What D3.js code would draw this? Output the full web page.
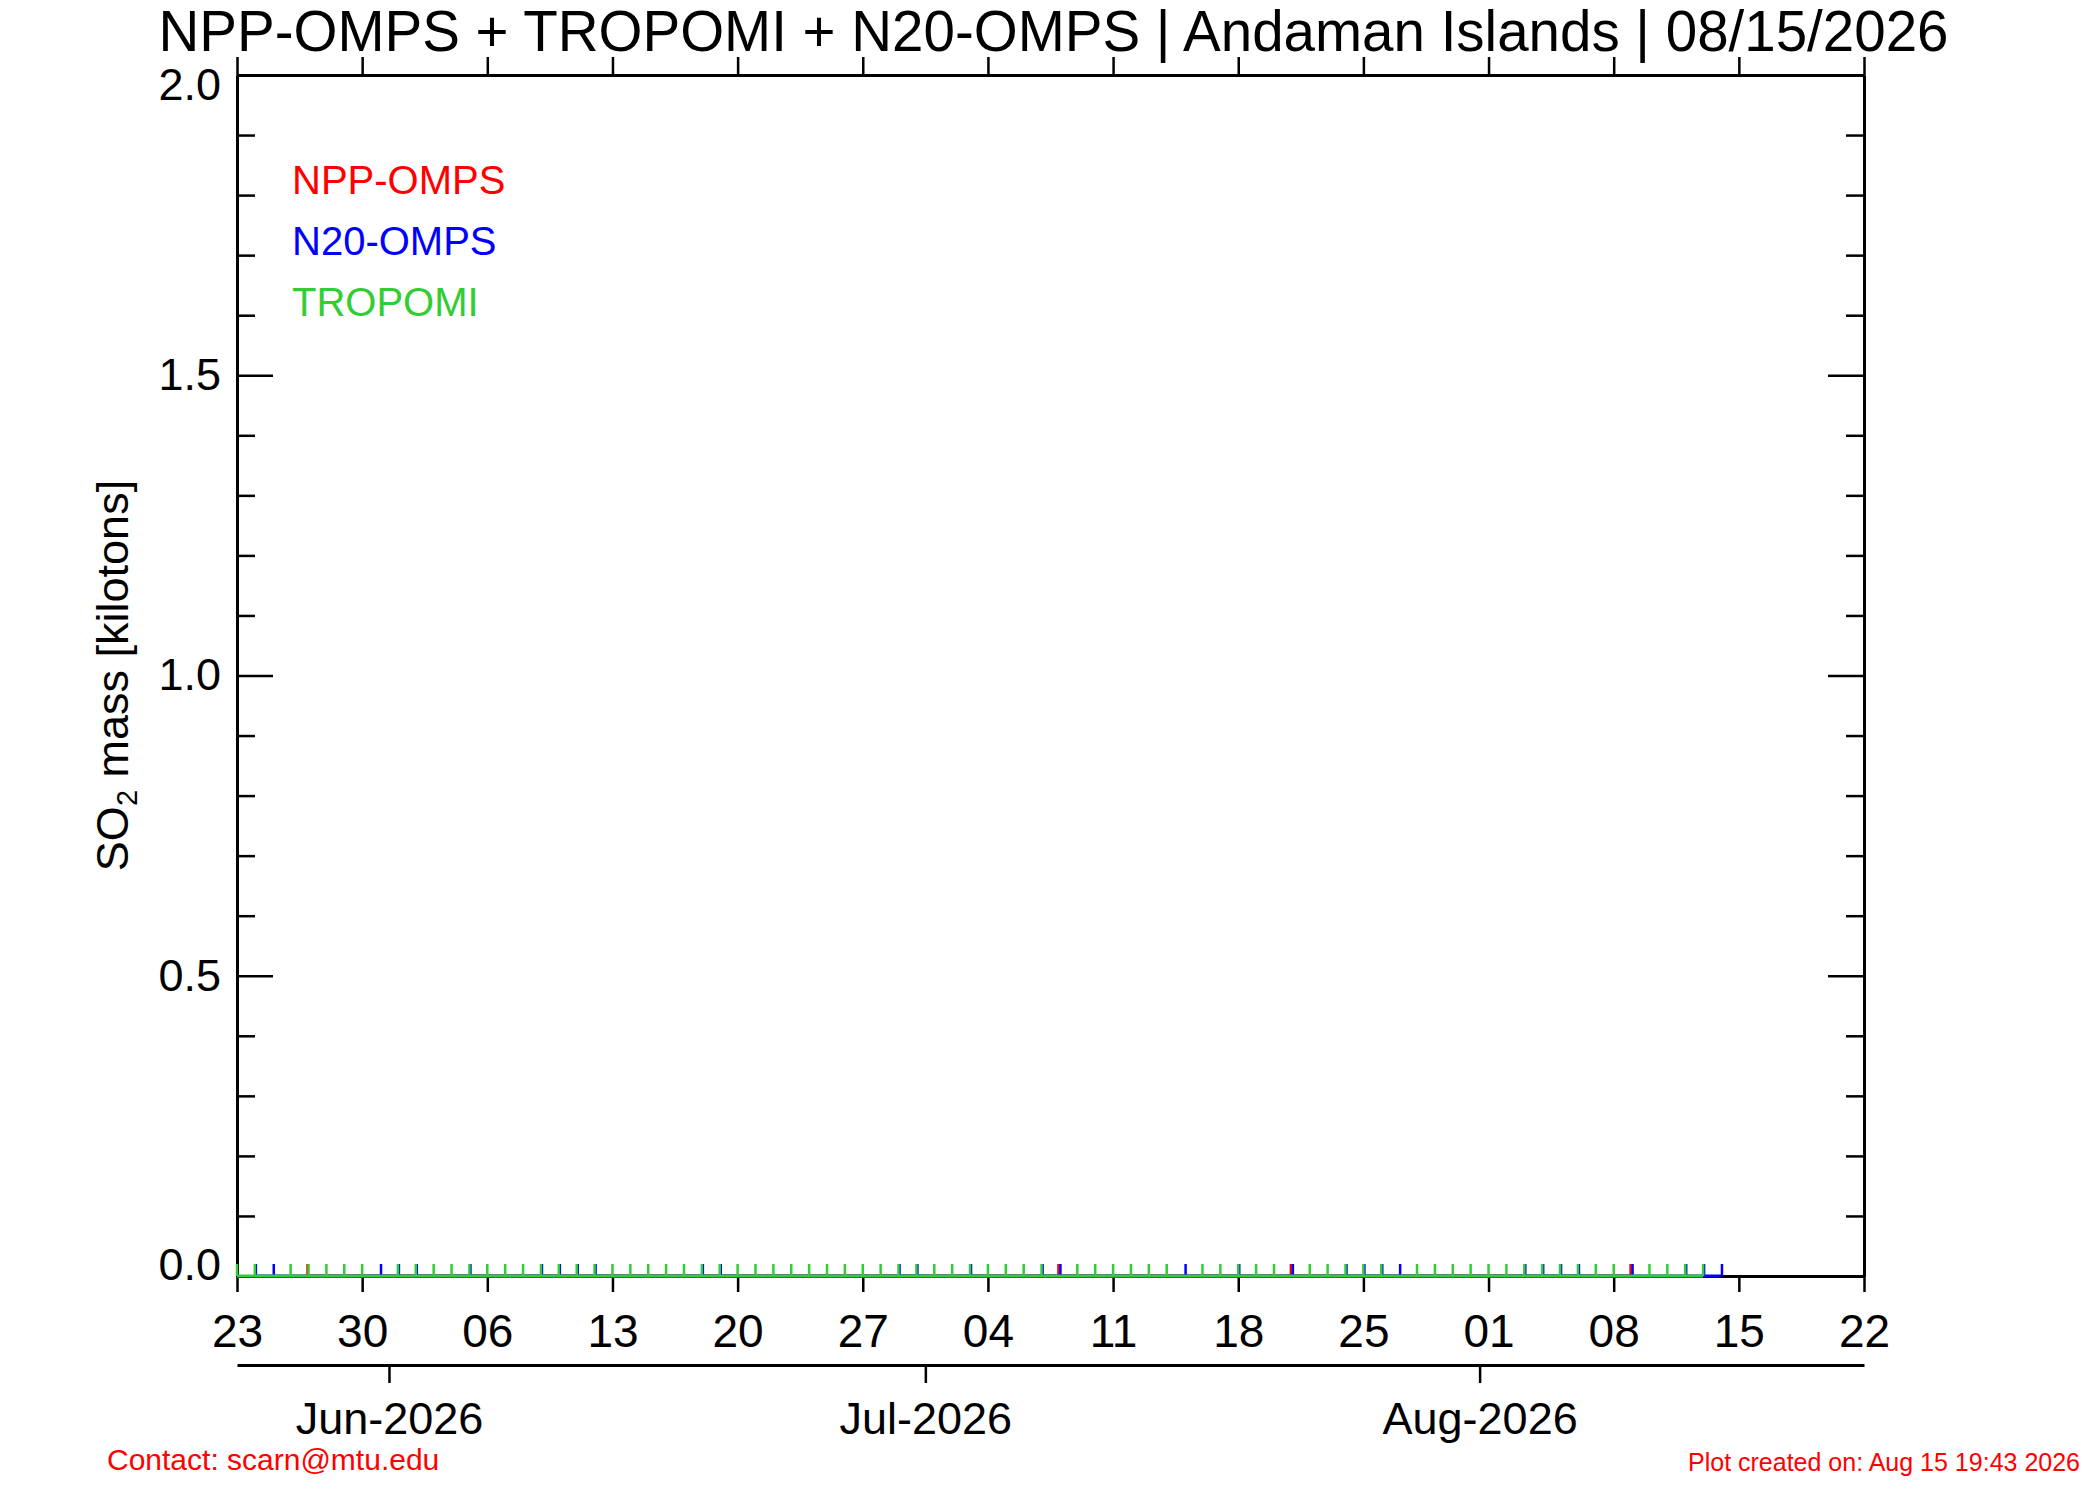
<!DOCTYPE html>
<html>
<head>
<meta charset="utf-8">
<script src="https://cdn.jsdelivr.net/npm/d3@7"></script>
<style>
  body { margin: 0; background: #fff; }
  svg text { font-family: "Liberation Sans", Arial, Helvetica, sans-serif; }
</style>
</head>
<body>
<script>
// SO2 mass time series, Andaman Islands (all retrievals are 0.0 kt)
const titleText = "NPP-OMPS + TROPOMI + N20-OMPS | Andaman Islands | 08/15/2026";

const nppData = [
    ["2026-05-27", 0.0], ["2026-07-08", 0.0], ["2026-07-21", 0.0], ["2026-08-09", 0.0]
];
const n20Data = [
    ["2026-05-24", 0.0], ["2026-05-25", 0.0], ["2026-05-31", 0.0], ["2026-06-01", 0.0],
    ["2026-06-02", 0.0], ["2026-06-05", 0.0], ["2026-06-09", 0.0], ["2026-06-10", 0.0],
    ["2026-06-11", 0.0], ["2026-06-12", 0.0], ["2026-06-18", 0.0], ["2026-06-19", 0.0],
    ["2026-06-29", 0.0], ["2026-06-30", 0.0], ["2026-07-03", 0.0], ["2026-07-07", 0.0],
    ["2026-07-08", 0.0], ["2026-07-15", 0.0], ["2026-07-18", 0.0], ["2026-07-21", 0.0],
    ["2026-07-24", 0.0], ["2026-07-25", 0.0], ["2026-07-26", 0.0], ["2026-07-27", 0.0],
    ["2026-08-03", 0.0], ["2026-08-04", 0.0], ["2026-08-05", 0.0], ["2026-08-06", 0.0],
    ["2026-08-09", 0.0], ["2026-08-12", 0.0], ["2026-08-13", 0.0], ["2026-08-14", 0.0]
];
const tropomiData = [
    ["2026-05-23", 0.0], ["2026-05-24", 0.0], ["2026-05-26", 0.0], ["2026-05-27", 0.0],
    ["2026-05-28", 0.0], ["2026-05-29", 0.0], ["2026-05-30", 0.0], ["2026-06-01", 0.0],
    ["2026-06-02", 0.0], ["2026-06-03", 0.0], ["2026-06-04", 0.0], ["2026-06-05", 0.0],
    ["2026-06-06", 0.0], ["2026-06-07", 0.0], ["2026-06-08", 0.0], ["2026-06-09", 0.0],
    ["2026-06-10", 0.0], ["2026-06-11", 0.0], ["2026-06-12", 0.0], ["2026-06-13", 0.0],
    ["2026-06-14", 0.0], ["2026-06-15", 0.0], ["2026-06-16", 0.0], ["2026-06-17", 0.0],
    ["2026-06-18", 0.0], ["2026-06-19", 0.0], ["2026-06-20", 0.0], ["2026-06-21", 0.0],
    ["2026-06-22", 0.0], ["2026-06-23", 0.0], ["2026-06-24", 0.0], ["2026-06-25", 0.0],
    ["2026-06-26", 0.0], ["2026-06-27", 0.0], ["2026-06-28", 0.0], ["2026-06-29", 0.0],
    ["2026-06-30", 0.0], ["2026-07-01", 0.0], ["2026-07-02", 0.0], ["2026-07-03", 0.0],
    ["2026-07-04", 0.0], ["2026-07-05", 0.0], ["2026-07-06", 0.0], ["2026-07-07", 0.0],
    ["2026-07-09", 0.0], ["2026-07-10", 0.0], ["2026-07-11", 0.0], ["2026-07-12", 0.0],
    ["2026-07-13", 0.0], ["2026-07-14", 0.0], ["2026-07-16", 0.0], ["2026-07-17", 0.0],
    ["2026-07-18", 0.0], ["2026-07-19", 0.0], ["2026-07-20", 0.0], ["2026-07-22", 0.0],
    ["2026-07-23", 0.0], ["2026-07-24", 0.0], ["2026-07-25", 0.0], ["2026-07-26", 0.0],
    ["2026-07-28", 0.0], ["2026-07-29", 0.0], ["2026-07-30", 0.0], ["2026-07-31", 0.0],
    ["2026-08-01", 0.0], ["2026-08-02", 0.0], ["2026-08-03", 0.0], ["2026-08-04", 0.0],
    ["2026-08-05", 0.0], ["2026-08-06", 0.0], ["2026-08-07", 0.0], ["2026-08-08", 0.0],
    ["2026-08-10", 0.0], ["2026-08-11", 0.0], ["2026-08-12", 0.0], ["2026-08-13", 0.0]
];

const dayTickDates = ["2026-05-23", "2026-05-30", "2026-06-06", "2026-06-13", "2026-06-20",
    "2026-06-27", "2026-07-04", "2026-07-11", "2026-07-18", "2026-07-25", "2026-08-01",
    "2026-08-08", "2026-08-15", "2026-08-22"];
const monthTickDates = ["2026-06-01", "2026-07-01", "2026-08-01"];
const yMajorTicks = [0.0, 0.5, 1.0, 1.5, 2.0];
const yMinorTicks = [0.1, 0.2, 0.3, 0.4, 0.6, 0.7, 0.8, 0.9, 1.1, 1.2, 1.3, 1.4, 1.6, 1.7, 1.8, 1.9];

const legendItems = [
    {name: "NPP-OMPS", color: "#ff0000"},
    {name: "N20-OMPS", color: "#0000ff"},
    {name: "TROPOMI",  color: "#32cd32"}
];

const width = 2100;
const height = 1500;
const margin = {top: 75, right: 236, bottom: 224, left: 237};

const parseDay = d3.utcParse("%Y-%m-%d");
const HALF_DAY = 12 * 3600 * 1000;
const atNoon = (s) => new Date(parseDay(s).getTime() + HALF_DAY);

const svg = d3.select("body")
    .append("svg")
    .attr("width", width)
    .attr("height", height)
    .style("background", "#fff");

const xScale = d3.scaleUtc()
    .domain([atNoon("2026-05-23"), atNoon("2026-08-22")])
    .range([margin.left, width - margin.right]);
const yScale = d3.scaleLinear()
    .domain([0, 2.0])
    .range([height - margin.bottom, margin.top]);

const x0 = margin.left, x1 = width - margin.right;
const yBottom = height - margin.bottom, yTop = margin.top;

function styleAxis(g, fontSize) {
    g.attr("font-family", null).attr("font-size", fontSize);
    g.selectAll("path.domain").attr("stroke", "#000").attr("stroke-width", 3);
    g.selectAll(".tick line").attr("stroke", "#000").attr("stroke-width", 2.5);
    g.selectAll(".tick text").attr("fill", "#000");
}

// title
svg.append("text")
    .attr("x", (x0 + x1) / 2 + 3)
    .attr("y", 51)
    .attr("text-anchor", "middle")
    .attr("font-size", 56.5)
    .attr("fill", "#000")
    .text(titleText);

// bottom axis with day labels
const dayTicks = dayTickDates.map(atNoon);
const xAxisBottom = svg.append("g")
    .attr("transform", `translate(0,${yBottom})`)
    .call(d3.axisBottom(xScale)
        .tickValues(dayTicks)
        .tickFormat(d3.utcFormat("%d"))
        .tickSize(16)
        .tickSizeOuter(0)
        .tickPadding(22));
styleAxis(xAxisBottom, 46);

// top axis, ticks only
const xAxisTop = svg.append("g")
    .attr("transform", `translate(0,${yTop})`)
    .call(d3.axisTop(xScale)
        .tickValues(dayTicks)
        .tickFormat("")
        .tickSize(18)
        .tickSizeOuter(0));
styleAxis(xAxisTop, 10);

// left axis, ticks pointing into the plot
const yAxisLeft = svg.append("g")
    .attr("transform", `translate(${x0},0)`)
    .call(d3.axisLeft(yScale)
        .tickValues(yMajorTicks)
        .tickFormat(d3.format(".1f"))
        .tickSize(-36)
        .tickSizeOuter(0)
        .tickPadding(16));
styleAxis(yAxisLeft, 45);
// IDL nudges the end labels inward
yAxisLeft.selectAll(".tick text")
    .attr("y", (d) => d === 0 ? -11 : (d === 2.0 ? 10 : 0));

svg.append("g")
    .attr("transform", `translate(${x0},0)`)
    .call(d3.axisLeft(yScale).tickValues(yMinorTicks).tickFormat("").tickSize(-18).tickSizeOuter(0))
    .call((g) => styleAxis(g, 10));

// right axis, ticks pointing into the plot
svg.append("g")
    .attr("transform", `translate(${x1},0)`)
    .call(d3.axisRight(yScale).tickValues(yMajorTicks).tickFormat("").tickSize(-36).tickSizeOuter(0))
    .call((g) => styleAxis(g, 10));
svg.append("g")
    .attr("transform", `translate(${x1},0)`)
    .call(d3.axisRight(yScale).tickValues(yMinorTicks).tickFormat("").tickSize(-18).tickSizeOuter(0))
    .call((g) => styleAxis(g, 10));

// secondary month axis below
const monthAxis = svg.append("g")
    .attr("transform", `translate(0,1365)`)
    .call(d3.axisBottom(xScale)
        .tickValues(monthTickDates.map(parseDay))
        .tickFormat(d3.utcFormat("%b-%Y"))
        .tickSize(18)
        .tickSizeOuter(0)
        .tickPadding(19));
styleAxis(monthAxis, 45);

// y axis title
const yTitle = svg.append("text")
    .attr("transform", `translate(128,${(yTop + yBottom) / 2}) rotate(-90)`)
    .attr("text-anchor", "middle")
    .attr("font-size", 45)
    .attr("fill", "#000");
yTitle.append("tspan").text("SO");
yTitle.append("tspan").attr("font-size", 29).attr("dy", 9).text("2");
yTitle.append("tspan").attr("dy", -9).text(" mass [kilotons]");

// data series: baseline line + a short stem for every retrieval
const stemHeight = 12;
const series = [
    {data: nppData, color: "#ff0000", offset: -1},
    {data: n20Data, color: "#0000ff", offset: 1},
    {data: tropomiData, color: "#32cd32", offset: 0}
];

const line = d3.line()
    .x((d) => xScale(atNoon(d[0])))
    .y((d) => yScale(d[1]));

series.forEach((s) => {
    const g = svg.append("g");
    g.append("path")
        .attr("d", line(s.data))
        .attr("fill", "none")
        .attr("stroke", s.color)
        .attr("stroke-width", 3);
    g.selectAll("line")
        .data(s.data)
        .join("line")
        .attr("x1", (d) => xScale(atNoon(d[0])) + s.offset)
        .attr("x2", (d) => xScale(atNoon(d[0])) + s.offset)
        .attr("y1", (d) => yScale(d[1]))
        .attr("y2", (d) => yScale(d[1]) - stemHeight)
        .attr("stroke", s.color)
        .attr("stroke-width", 2.5);
});

// legend
svg.append("g")
    .selectAll("text")
    .data(legendItems)
    .join("text")
    .attr("x", 292)
    .attr("y", (d, i) => 194 + i * 61)
    .attr("font-size", 40)
    .attr("fill", (d) => d.color)
    .text((d) => d.name);

// footer
svg.append("text")
    .attr("x", 107)
    .attr("y", 1470)
    .attr("font-size", 30)
    .attr("fill", "#ff0000")
    .text("Contact: scarn@mtu.edu");
svg.append("text")
    .attr("x", 2080)
    .attr("y", 1471)
    .attr("text-anchor", "end")
    .attr("font-size", 25)
    .attr("fill", "#ff0000")
    .text("Plot created on: Aug 15 19:43 2026");
</script>
</body>
</html>
